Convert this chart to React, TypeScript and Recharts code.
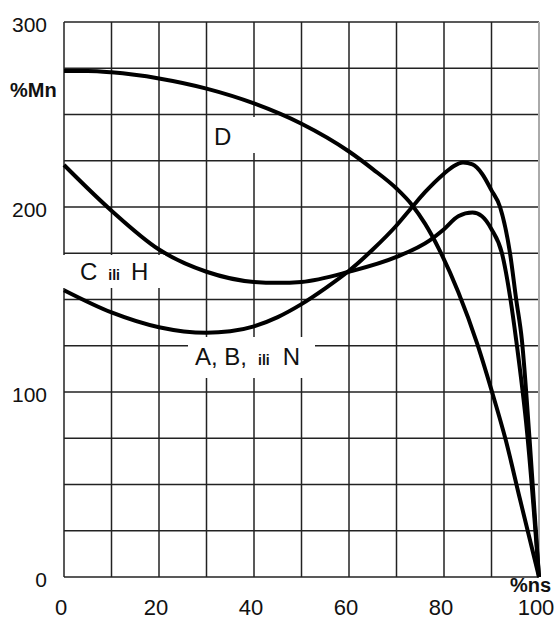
import { CartesianGrid, Line, LineChart, ReferenceLine, XAxis, YAxis } from 'recharts';

// % speed (x) vs % torque (y)
const dX = [0, 5, 10, 20, 30, 40, 50, 60, 65, 70, 73.3, 76, 79, 83, 87, 90, 93, 96, 100];
const dY = [273.5, 273.5, 272.8, 269.5, 264, 256, 245, 230, 220.5, 210, 201, 191, 177, 154, 126, 101, 74, 42, 0];

const cX = [0, 10, 20, 30, 40, 45, 50, 60, 70, 77, 80, 83, 86, 88, 90, 92.2, 94, 95.2, 97.5, 100];
const cY = [222.7, 198, 177, 165, 159.5, 159, 159.5, 165, 173, 182, 188, 195, 197, 195, 188, 175, 150, 128, 78, 0];

const aX = [0, 10, 20, 30, 35, 40, 45, 50, 55, 60, 65, 70, 73.3, 76, 80, 82, 84, 86, 88, 90, 91.8, 93.9, 95.2, 96.4, 98, 100];
const aY = [155, 143, 135, 132, 132.8, 135.5, 140.5, 147.5, 156, 165.5, 177, 190, 200, 208, 218, 222, 224, 223, 218, 209, 200, 175, 150, 128, 75, 0];

const xTicks = [0, 10, 20, 30, 40, 50, 60, 70, 80, 90, 100];
const yTicks = [0, 25, 50, 75, 100, 125, 150, 175, 200, 225, 250, 275, 300];

const pts = (xs: number[], ys: number[]) => xs.map((x, i) => ({ x, y: ys[i] }));
const curveD = pts(dX, dY);
const curveC = pts(cX, cY);
const curveA = pts(aX, aY);

const FONT = '"Liberation Sans", Arial, sans-serif';

function XTick({ x, y, payload }: any) {
  if (payload.value % 20 !== 0) return null;
  return (
    <text x={x - 3} y={y + 38} textAnchor="middle" fontSize={22} fontFamily={FONT} fill="#111">
      {payload.value}
    </text>
  );
}

function YTick({ x, y, payload }: any) {
  if (payload.value % 100 !== 0) return null;
  return (
    <text x={x - 17} y={y + 10} textAnchor="end" fontSize={21} fontFamily={FONT} fill="#111">
      {payload.value}
    </text>
  );
}

const box = (left: number, top: number, width: number, height: number, pl: number, pt: number): React.CSSProperties => ({
  position: 'absolute',
  left,
  top,
  width: width - pl,
  height: height - pt,
  paddingLeft: pl,
  paddingTop: pt,
  background: '#fff',
  fontFamily: FONT,
  fontSize: 24,
  lineHeight: '24px',
  color: '#111',
  whiteSpace: 'nowrap',
});

const ili: React.CSSProperties = { fontSize: 14, fontWeight: 'bold' };

export default function App() {
  return (
    <div style={{ position: 'absolute', left: 0, top: 0, width: 555, height: 619, background: '#fff' }}>
      <LineChart width={555} height={619} margin={{ top: 22, right: 16, bottom: 12, left: 0 }}>
        <CartesianGrid stroke="#222" strokeWidth={1.5} />
        <XAxis
          type="number"
          dataKey="x"
          domain={[0, 100]}
          ticks={xTicks}
          tickSize={0}
          tickMargin={0}
          axisLine={false}
          tick={<XTick />}
          height={30}
          interval={0}
        />
        <YAxis
          type="number"
          domain={[0, 300]}
          ticks={yTicks}
          tickSize={0}
          tickMargin={0}
          axisLine={false}
          tick={<YTick />}
          width={64}
          interval={0}
        />
        <ReferenceLine x={100} stroke="#aaa" strokeWidth={2} />
        <Line data={curveD} dataKey="y" type="monotone" stroke="#000" strokeWidth={4} dot={false} isAnimationActive={false} />
        <Line data={curveC} dataKey="y" type="monotone" stroke="#000" strokeWidth={4} dot={false} isAnimationActive={false} />
        <Line data={curveA} dataKey="y" type="monotone" stroke="#000" strokeWidth={4} dot={false} isAnimationActive={false} />
      </LineChart>

      <div style={{ position: 'absolute', left: 10, top: 80, fontFamily: FONT, fontSize: 20, fontWeight: 'bold', color: '#111', lineHeight: '20px' }}>
        %Mn
      </div>
      <div style={{ position: 'absolute', left: 510, top: 575, fontFamily: FONT, fontSize: 20, fontWeight: 'bold', color: '#111', lineHeight: '20px' }}>
        %ns
      </div>

      <div style={box(210, 117, 50, 36, 4, 8)}>D</div>
      <div style={box(62, 255, 103, 33, 18, 5)}>
        C<span style={{ ...ili, marginLeft: 11 }}>ili</span>
        <span style={{ marginLeft: 11 }}>H</span>
      </div>
      <div style={box(188, 337, 127, 41, 7, 8)}>
        A, B,<span style={{ ...ili, marginLeft: 11 }}>ili</span>
        <span style={{ marginLeft: 13 }}>N</span>
      </div>
    </div>
  );
}
